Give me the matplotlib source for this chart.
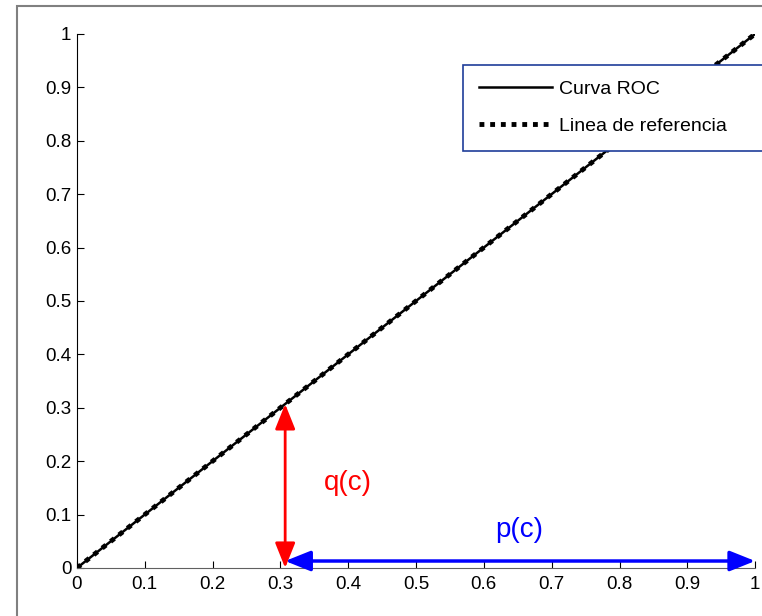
import matplotlib.pyplot as plt
from matplotlib.patches import Rectangle

plt.rcParams['font.family'] = ['Liberation Sans', 'DejaVu Sans']

# data
roc_x = [0, 1]
roc_y = [0, 1]
ref_x = [0, 1]
ref_y = [0, 1]
c_point = 0.307
q_val = 0.307
p_arrow_y = 0.013
ticks = [0, 0.1, 0.2, 0.3, 0.4, 0.5, 0.6, 0.7, 0.8, 0.9, 1]
tick_labels = ['0', '0.1', '0.2', '0.3', '0.4', '0.5', '0.6', '0.7', '0.8', '0.9', '1']

fig = plt.figure(figsize=(7.62, 6.16), dpi=100)
ax = fig.add_axes([0.101, 0.078, 0.89, 0.867])

# gray frame of the original figure window (cut off right/bottom)
fig.patches.append(Rectangle((17 / 762, -0.1), 1.2, 1 - 6 / 616 + 0.1,
                             transform=fig.transFigure, fill=False,
                             edgecolor='#808080', linewidth=1.5))

ax.plot(roc_x, roc_y, color='black', linewidth=1.8, label='Curva ROC')
ax.plot(ref_x, ref_y, color='black', linewidth=3.5, linestyle=(0, (1, 1.2)),
        label='Linea de referencia')

arrow_style = '<|-|>,head_length=0.7,head_width=0.28'

# q(c) arrow
ax.annotate('', xy=(c_point, q_val), xytext=(c_point, 0),
            arrowprops=dict(arrowstyle=arrow_style, color='red', lw=2,
                            mutation_scale=22, shrinkA=0, shrinkB=0))
ax.text(0.364, 0.16, 'q(c)', color='red', fontsize=20, va='center', ha='left')

# p(c) arrow
ax.annotate('', xy=(1, p_arrow_y), xytext=(c_point, p_arrow_y),
            arrowprops=dict(arrowstyle=arrow_style, color='blue', lw=2.5,
                            mutation_scale=22, shrinkA=0, shrinkB=0))
ax.text(0.617, 0.071, 'p(c)', color='blue', fontsize=20, va='center', ha='left')

ax.set_xlim(0, 1)
ax.set_ylim(0, 1)
ax.set_xticks(ticks)
ax.set_xticklabels(tick_labels)
ax.set_yticks(ticks)
ax.set_yticklabels(tick_labels)
ax.tick_params(direction='in', length=5, labelsize=13.5, colors='black', pad=4)
ax.tick_params(axis='x', pad=6)
ax.spines['top'].set_visible(False)
ax.spines['right'].set_visible(False)
ax.spines['bottom'].set_color('#606060')

leg = fig.legend(loc='upper left', mode='expand',
                 bbox_to_anchor=(463 / 762, 1 - 149 / 616, 0.5, 84 / 616),
                 fontsize=14, frameon=True, fancybox=False, framealpha=1,
                 handlelength=3.76, borderpad=0.8, labelspacing=1.0,
                 handletextpad=0.36, borderaxespad=0)
leg.get_frame().set_edgecolor('#1f3d99')
leg.get_frame().set_linewidth(1.2)

fig.savefig('out.png', dpi=100)
